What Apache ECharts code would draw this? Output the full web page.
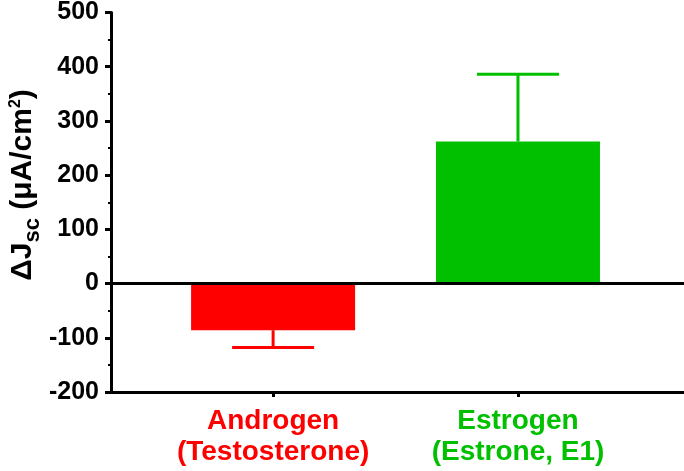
<!DOCTYPE html>
<html>
<head>
<meta charset="utf-8">
<script src="https://cdn.jsdelivr.net/npm/echarts@6/dist/echarts.min.js"></script>
<style>
html,body{margin:0;padding:0;background:#fff;}
#c{width:684px;height:471px;}
</style>
</head>
<body>
<div id="c"></div>
<script>
// Data
const labelLine1 = ['Androgen', 'Estrogen'];
const labelLine2 = ['(Testosterone)', '(Estrone, E1)'];
const positions = [1, 2];
const means = [-86, 262];
const sems = [32, 124];
const barColors = ['#ff0000', '#00c000'];
const yTicks = [-200, -100, 0, 100, 200, 300, 400, 500];

const FONT = '"Liberation Sans", Arial, Helvetica, sans-serif';

const chart = echarts.init(document.getElementById('c'), null, {renderer: 'canvas'});

const barData = positions.map((p, i) => ({
  value: [p, means[i]],
  itemStyle: {color: barColors[i]}
}));
const errData = positions.map((p, i) => [p, means[i], sems[i]]);

const option = {
  animation: false,
  backgroundColor: '#fff',
  grid: {left: 111, right: 0, top: 11, bottom: 79, containLabel: false},
  xAxis: {
    type: 'value',
    min: 0.338,
    max: 2.678,
    splitLine: {show: false},
    axisLine: {show: true, onZero: false, lineStyle: {color: '#000', width: 3}},
    axisTick: {show: true, customValues: positions, length: 5, lineStyle: {color: '#000', width: 3}},
    axisLabel: {
      show: true,
      customValues: positions,
      margin: 14,
      formatter: function (v) {
        const i = positions.indexOf(Math.round(v));
        if (i < 0) return '';
        const k = i === 0 ? 'r' : 'g';
        return '{' + k + '|' + labelLine1[i] + '}\n{' + k + '|' + labelLine2[i] + '}';
      },
      rich: {
        r: {color: barColors[0], fontSize: 28, fontWeight: 'bold', fontFamily: FONT, lineHeight: 31},
        g: {color: barColors[1], fontSize: 28, fontWeight: 'bold', fontFamily: FONT, lineHeight: 31}
      }
    }
  },
  yAxis: {
    type: 'value',
    min: yTicks[0],
    max: yTicks[yTicks.length - 1],
    interval: 100,
    splitLine: {show: false},
    axisLine: {show: true, onZero: false, lineStyle: {color: '#000', width: 3}},
    axisTick: {show: true, length: 6, lineStyle: {color: '#000', width: 3}},
    minorTick: {show: true, splitNumber: 2, length: 3, lineStyle: {color: '#000', width: 2}},
    axisLabel: {
      color: '#000', fontSize: 25, fontWeight: 'bold', fontFamily: FONT, margin: 12
    }
  },
  graphic: [{
    type: 'text',
    x: 26,
    y: 185,
    rotation: Math.PI / 2,
    style: {
      text: '{m|ΔJ}{sub|sc}{m| (μA/cm}{sup|2}{m|)}',
      align: 'center',
      verticalAlign: 'middle',
      fill: '#000',
      rich: {
        m: {fontSize: 30, fontWeight: 'bold', fontFamily: FONT, lineHeight: 36, verticalAlign: 'top', fill: '#000'},
        sub: {fontSize: 22, fontWeight: 'bold', fontFamily: FONT, lineHeight: 20, verticalAlign: 'bottom', fill: '#000'},
        sup: {fontSize: 16, fontWeight: 'bold', fontFamily: FONT, lineHeight: 16, verticalAlign: 'top', fill: '#000'}
      }
    }
  }],
  series: [
    {
      type: 'bar',
      data: barData,
      barWidth: 164,
      z: 2,
      markLine: {
        silent: true,
        symbol: 'none',
        label: {show: false},
        lineStyle: {color: '#000', width: 3, type: 'solid'},
        data: [{yAxis: 0}],
        z: 5
      }
    },
    {
      type: 'custom',
      z: 3,
      data: errData,
      renderItem: function (params, api) {
        const x = api.value(0), m = api.value(1), e = api.value(2);
        const end = m >= 0 ? m + e : m - e;
        const p0 = api.coord([x, m]);
        const p1 = api.coord([x, end]);
        const col = barColors[params.dataIndex];
        const half = 41;
        return {
          type: 'group',
          children: [
            {type: 'line', shape: {x1: p0[0], y1: p0[1], x2: p1[0], y2: p1[1]}, style: {stroke: col, lineWidth: 3}},
            {type: 'line', shape: {x1: p1[0] - half, y1: p1[1], x2: p1[0] + half, y2: p1[1]}, style: {stroke: col, lineWidth: 3}}
          ]
        };
      }
    }
  ]
};
chart.setOption(option);
</script>
</body>
</html>
